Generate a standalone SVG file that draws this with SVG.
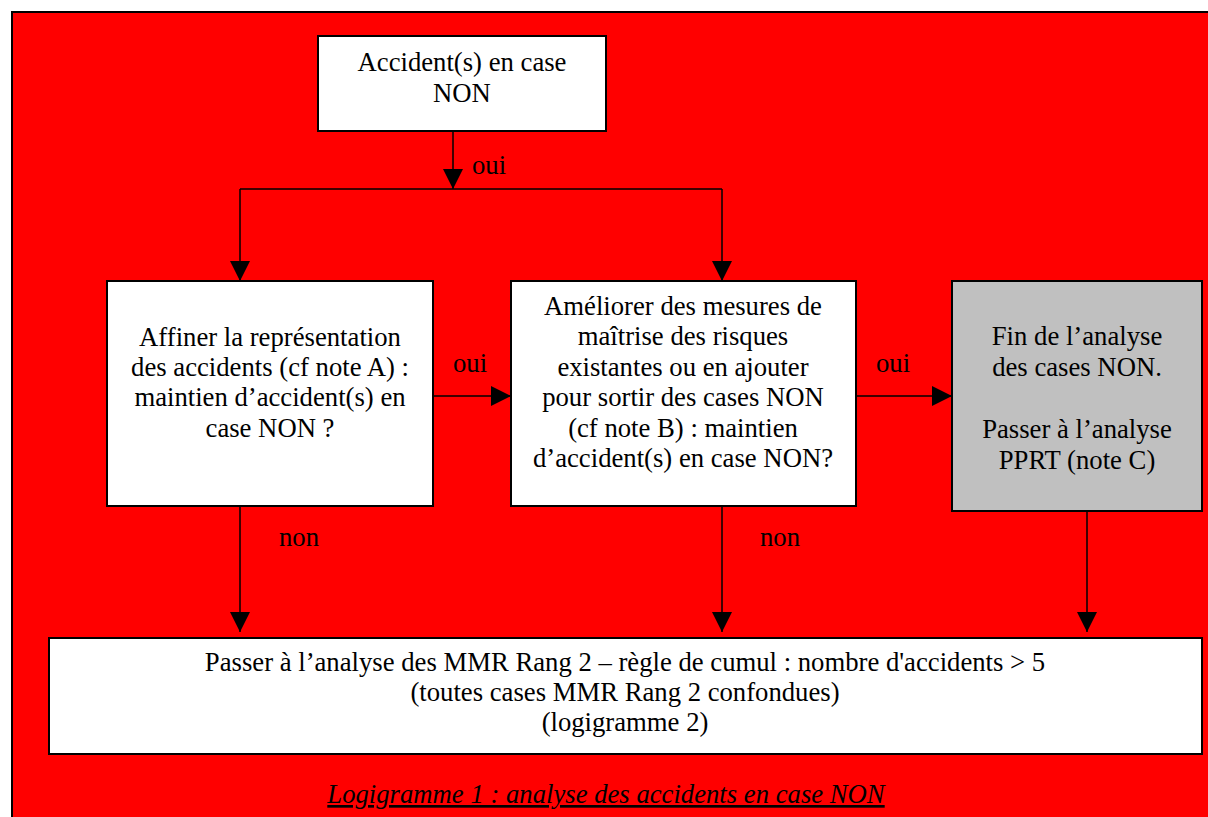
<svg xmlns="http://www.w3.org/2000/svg" width="1208" height="817" viewBox="0 0 1208 817">
  <style>
    text { font-family: 'Liberation Serif', Tinos, 'Times New Roman', Times, serif; font-size: 26.7px; fill: #000; }
    .t { text-anchor: middle; }
    .box { fill: #fff; stroke: #000; stroke-width: 2; }
    .grey { fill: #c0c0c0; stroke: #000; stroke-width: 2; }
    .ln { fill: none; stroke: #000; stroke-width: 1.5; }
    .arr { fill: none; stroke: #000; stroke-width: 1.5; marker-end: url(#head); }
    .cap { font-style: italic; text-decoration: underline; text-anchor: middle; }
  </style>
  <defs>
    <marker id="head" markerUnits="userSpaceOnUse" markerWidth="20" markerHeight="20" viewBox="0 0 20 20" refX="20" refY="10" orient="auto">
      <path d="M0,0 L20,10 L0,20 Z" fill="#000"/>
    </marker>
  </defs>

  <!-- background panel -->
  <rect x="0" y="0" width="1208" height="817" fill="#fff"/>
  <rect x="12" y="12" width="1210" height="820" fill="#ff0000" stroke="#000" stroke-width="2"/>

  <!-- connectors -->
  <g id="connectors">
    <line class="arr" x1="453" y1="131" x2="453" y2="189"/>
    <polyline class="ln" points="240,189 722,189"/>
    <line class="arr" x1="240" y1="189" x2="240" y2="281"/>
    <line class="arr" x1="722" y1="189" x2="722" y2="281"/>
    <line class="arr" x1="433" y1="396" x2="511" y2="396"/>
    <line class="arr" x1="856" y1="396" x2="952" y2="396"/>
    <line class="arr" x1="240" y1="506" x2="240" y2="632"/>
    <line class="arr" x1="722" y1="506" x2="722" y2="632"/>
    <line class="arr" x1="1087" y1="511" x2="1087" y2="632"/>
    <text x="472" y="174">oui</text>
    <text x="453" y="372">oui</text>
    <text x="876" y="372">oui</text>
    <text x="279" y="546">non</text>
    <text x="760" y="546">non</text>
  </g>

  <!-- start -->
  <g id="start">
    <rect class="box" x="318" y="36" width="288" height="95"/>
    <text class="t" x="462" y="71">Accident(s) en case</text>
    <text class="t" x="462" y="102">NON</text>
  </g>

  <!-- refine representation -->
  <g id="affiner">
    <rect class="box" x="107" y="281" width="326" height="225"/>
    <text class="t" x="270" y="346">Affiner la représentation</text>
    <text class="t" x="270" y="376">des accidents (cf note A) :</text>
    <text class="t" x="270" y="406">maintien d’accident(s) en</text>
    <text class="t" x="270" y="437">case NON ?</text>
  </g>

  <!-- improve risk control -->
  <g id="ameliorer">
    <rect class="box" x="511" y="281" width="345" height="225"/>
    <text class="t" x="683" y="315">Améliorer des mesures de</text>
    <text class="t" x="683" y="345">maîtrise des risques</text>
    <text class="t" x="683" y="376">existantes ou en ajouter</text>
    <text class="t" x="683" y="406">pour sortir des cases NON</text>
    <text class="t" x="683" y="437">(cf note B) : maintien</text>
    <text class="t" x="683" y="467">d’accident(s) en case NON?</text>
  </g>

  <!-- end of analysis -->
  <g id="fin">
    <rect class="grey" x="952" y="281" width="250" height="230"/>
    <text class="t" x="1077" y="345">Fin de l’analyse</text>
    <text class="t" x="1077" y="376">des cases NON.</text>
    <text class="t" x="1077" y="438">Passer à l’analyse</text>
    <text class="t" x="1077" y="469">PPRT (note C)</text>
  </g>

  <!-- next step -->
  <g id="mmr">
    <rect class="box" x="49" y="638" width="1153" height="116"/>
    <text class="t" x="625" y="671">Passer à l’analyse des MMR Rang 2 – règle de cumul : nombre d'accidents &gt; 5</text>
    <text class="t" x="625" y="701">(toutes cases MMR Rang 2 confondues)</text>
    <text class="t" x="625" y="731">(logigramme 2)</text>
  </g>

  <!-- caption -->
  <text class="cap" x="606" y="803">Logigramme 1 : analyse des accidents en case NON</text>
</svg>
